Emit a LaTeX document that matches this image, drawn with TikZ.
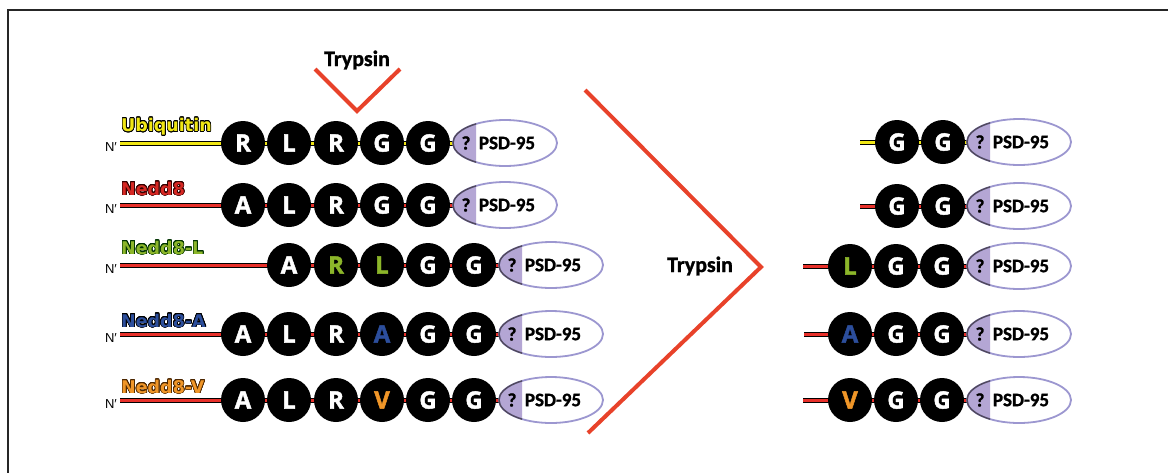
\documentclass[tikz,border=0pt]{standalone}
\usepackage{fontspec}
\usepackage[copies]{contour}
\usetikzlibrary{backgrounds,shapes.geometric}
\newfontfamily\calfont[BoldFeatures={FakeBold=1.2}]{Carlito}
\newfontfamily\dvfont{DejaVu Sans}
\newfontfamily\aafont[BoldFeatures={FakeBold=1.8}]{Open Sans}
\newfontfamily\nfont{Liberation Sans}
\contourlength{0.7pt}
\contournumber{24}

\definecolor{ubiy}{RGB}{240,230,20}
\definecolor{linered}{RGB}{232,48,42}
\definecolor{neddred}{RGB}{214,40,36}
\definecolor{neddgreen}{RGB}{140,182,42}
\definecolor{neddblue}{RGB}{44,78,156}
\definecolor{neddorange}{RGB}{240,150,40}
\definecolor{cutred}{RGB}{232,66,42}
\definecolor{lav}{RGB}{180,166,212}
\definecolor{lavline}{RGB}{156,151,208}
\definecolor{lavdark}{RGB}{80,72,92}

\tikzset{
  aa/.style={circle, fill=black, minimum size=44pt, inner sep=0pt,
    text=white, font=\aafont\bfseries\fontsize{24}{24}\selectfont},
  psdnode/.style={ellipse, minimum width=104pt, minimum height=46pt, inner sep=0pt},
  chain/.style={draw=black, line width=1pt, double distance=3pt},
  ubichain/.style={chain, double=ubiy},
  nedchain/.style={chain, double=linered},
  lbl/.style={anchor=west, inner sep=0pt, font=\dvfont\bfseries\fontsize{17.5}{18}\selectfont},
  nterm/.style={inner sep=0pt, font=\nfont\fontsize{13}{13}\selectfont},
  cut/.style={draw=cutred, line width=4pt, line join=miter},
  cuttxt/.style={inner sep=0pt, anchor=base, font=\calfont\bfseries\fontsize{22}{22}\selectfont},
  psdtxt/.style={inner sep=0pt, font=\calfont\bfseries\fontsize{19}{19}\selectfont},
}

% PSD-95 domain: name, centre x, centre y
\newcommand{\psdbox}[3]{%
  \node[psdnode] (#1) at (#2,#3) {};
  \fill[white] (#2,#3) ellipse [x radius=52, y radius=23];
  \begin{scope}
    \clip (#2-60,#3-30) rectangle (#2-29,#3+30);
    \fill[lav] (#2,#3) ellipse [x radius=52, y radius=23];
  \end{scope}
  \draw[lavline, line width=1.8pt] (#2,#3) ellipse [x radius=52, y radius=23];
  \begin{scope}
    \clip (#2-60,#3-30) rectangle (#2-29,#3+30);
    \draw[lavdark, line width=1.4pt] (#2,#3) ellipse [x radius=52, y radius=23];
  \end{scope}
  \node[psdtxt] (#1q) at (#2-39,#3) {?};
  \node[psdtxt] (#1t) at (#2+2,#3) {PSD-95};
}

\begin{document}
\begin{tikzpicture}[x=1pt, y=-1pt]
\useasboundingbox (0,0) rectangle (1168,472);
\draw[line width=1.6pt, black!85] (8,480) -- (8,10) -- (1180,10);

% ---------- full-length substrates ----------
% Ubiquitin
\node[nterm] (n1) at (111,147) {N′};
\coordinate (s1) at (120,143);
\node[lbl, text=ubiy] (l1) at (121,127) {\contour{black}{Ubiquitin}};
\node[aa] (a11) at (243,143) {R};
\node[aa] (a12) at (289,143) {L};
\node[aa] (a13) at (336,143) {R};
\node[aa] (a14) at (382,143) {G};
\node[aa] (a15) at (428,143) {G};
\psdbox{p1}{505}{143}

% Nedd8
\node[nterm] (n2) at (111,209) {N′};
\coordinate (s2) at (120,205);
\node[lbl, text=neddred] (l2) at (121,189) {\contour{black!80!red}{Nedd8}};
\node[aa] (a21) at (243,205) {A};
\node[aa] (a22) at (289,205) {L};
\node[aa] (a23) at (336,205) {R};
\node[aa] (a24) at (382,205) {G};
\node[aa] (a25) at (428,205) {G};
\psdbox{p2}{505}{205}

% Nedd8-L
\node[nterm] (n3) at (111,269) {N′};
\coordinate (s3) at (120,265);
\node[lbl, text=neddgreen] (l3) at (121,248) {\contour{black!80!green}{Nedd8-L}};
\node[aa] (a31) at (289,265) {A};
\node[aa, text=neddgreen] (a32) at (336,265) {R};
\node[aa, text=neddgreen] (a33) at (382,265) {L};
\node[aa] (a34) at (428,265) {G};
\node[aa] (a35) at (474,265) {G};
\psdbox{p3}{551}{265}

% Nedd8-A
\node[nterm] (n4) at (111,338) {N′};
\coordinate (s4) at (120,334);
\node[lbl, text=neddblue] (l4) at (121,321) {\contour{black}{Nedd8-A}};
\node[aa] (a41) at (243,334) {A};
\node[aa] (a42) at (289,334) {L};
\node[aa] (a43) at (336,334) {R};
\node[aa, text=neddblue] (a44) at (382,334) {A};
\node[aa] (a45) at (428,334) {G};
\node[aa] (a46) at (474,334) {G};
\psdbox{p4}{551}{334}

% Nedd8-V
\node[nterm] (n5) at (111,404) {N′};
\coordinate (s5) at (120,400);
\node[lbl, text=neddorange] (l5) at (121,387) {\contour{black!70!orange}{Nedd8-V}};
\node[aa] (a51) at (243,400) {A};
\node[aa] (a52) at (289,400) {L};
\node[aa] (a53) at (336,400) {R};
\node[aa, text=neddorange] (a54) at (382,400) {V};
\node[aa] (a55) at (428,400) {G};
\node[aa] (a56) at (474,400) {G};
\psdbox{p5}{551}{400}

% ---------- cleavage products ----------
\coordinate (t1) at (860,142);
\node[aa] (b11) at (897,142) {G};
\node[aa] (b12) at (943,142) {G};
\psdbox{q1}{1019}{142}

\coordinate (t2) at (860,206);
\node[aa] (b21) at (897,206) {G};
\node[aa] (b22) at (943,206) {G};
\psdbox{q2}{1019}{206}

\coordinate (t3) at (803,266);
\node[aa, text=neddgreen] (b31) at (850,266) {L};
\node[aa] (b32) at (896,266) {G};
\node[aa] (b33) at (942,266) {G};
\psdbox{q3}{1019}{266}

\coordinate (t4) at (804,334);
\node[aa, text=neddblue] (b41) at (850,334) {A};
\node[aa] (b42) at (896,334) {G};
\node[aa] (b43) at (942,334) {G};
\psdbox{q4}{1019}{334}

\coordinate (t5) at (803,400);
\node[aa, text=neddorange] (b51) at (850,400) {V};
\node[aa] (b52) at (896,400) {G};
\node[aa] (b53) at (942,400) {G};
\psdbox{q5}{1019}{400}

% backbones behind the residues
\begin{scope}[on background layer]
  \draw[ubichain] (s1) -- (p1.west);
  \draw[nedchain] (s2) -- (p2.west);
  \draw[nedchain] (s3) -- (p3.west);
  \draw[nedchain] (s4) -- (p4.west);
  \draw[nedchain] (s5) -- (p5.west);
  \draw[ubichain] (t1) -- (q1.west);
  \draw[nedchain] (t2) -- (q2.west);
  \draw[nedchain] (t3) -- (q3.west);
  \draw[nedchain] (t4) -- (q4.west);
  \draw[nedchain] (t5) -- (q5.west);
\end{scope}

% ---------- trypsin ----------
\coordinate (v1a) at (315,69);
\coordinate (v1b) at (357,111);
\coordinate (v1c) at (400,69);
\draw[cut] (v1a) -- (v1b) -- (v1c);
\node[cuttxt] (tr1) at (357,66) {Trypsin};

\coordinate (v2a) at (585,90);
\coordinate (v2b) at (761,267);
\coordinate (v2c) at (588,433);
\draw[cut] (v2a) -- (v2b) -- (v2c);
\node[cuttxt] (tr2) at (700,272) {Trypsin};
\end{tikzpicture}
\end{document}
